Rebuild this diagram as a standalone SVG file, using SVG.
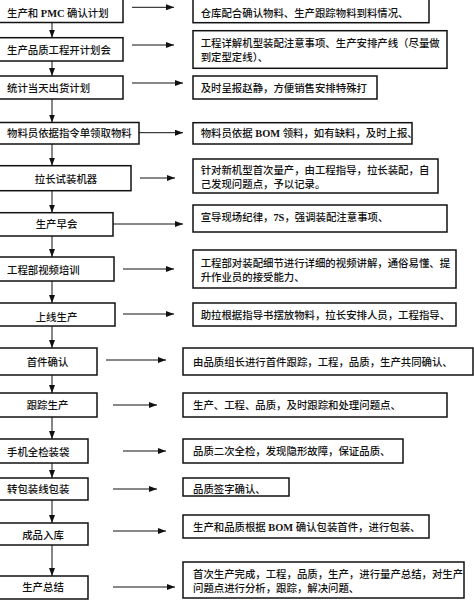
<svg xmlns="http://www.w3.org/2000/svg" width="474" height="600" viewBox="0 0 474 600">
<style>
.bx{fill:#fff;stroke:#111;stroke-width:1.5}
.t{font-family:"Liberation Serif","Noto Sans CJK SC",serif;font-size:10.4px;fill:#111;font-weight:500}
.c{text-anchor:middle}
.ln{stroke:#111;stroke-width:1;fill:none}
.lat{font-weight:bold}
</style>
<defs>
<marker id="ah" viewBox="0 0 8 6" refX="8" refY="3" markerWidth="8" markerHeight="6" markerUnits="userSpaceOnUse" orient="auto">
<path d="M0,0 L8,3 L0,6 Z" fill="#111"/>
</marker>
</defs>
<rect width="474" height="600" fill="#fff"/>
<g id="connectors">
<line class="ln" x1="52" y1="22.5" x2="52" y2="37.7" marker-end="url(#ah)"/>
<line class="ln" x1="52" y1="61" x2="52" y2="76" marker-end="url(#ah)"/>
<line class="ln" x1="52" y1="99" x2="52" y2="122.5" marker-end="url(#ah)"/>
<line class="ln" x1="52" y1="144" x2="52" y2="165.7" marker-end="url(#ah)"/>
<line class="ln" x1="52" y1="190.7" x2="52" y2="212.7" marker-end="url(#ah)"/>
<line class="ln" x1="52" y1="236" x2="52" y2="257" marker-end="url(#ah)"/>
<line class="ln" x1="52" y1="281" x2="52" y2="303" marker-end="url(#ah)"/>
<line class="ln" x1="52" y1="326" x2="52" y2="348" marker-end="url(#ah)"/>
<line class="ln" x1="52" y1="375" x2="52" y2="393" marker-end="url(#ah)"/>
<line class="ln" x1="52" y1="417" x2="52" y2="439" marker-end="url(#ah)"/>
<line class="ln" x1="52" y1="463" x2="52" y2="478" marker-end="url(#ah)"/>
<line class="ln" x1="52" y1="500" x2="52" y2="523" marker-end="url(#ah)"/>
<line class="ln" x1="52" y1="545" x2="52" y2="576" marker-end="url(#ah)"/>
<line class="ln" x1="132" y1="7.3" x2="174" y2="7.3" marker-end="url(#ah)"/>
<line class="ln" x1="132" y1="45" x2="174" y2="45" marker-end="url(#ah)"/>
<line class="ln" x1="132" y1="83" x2="183" y2="83" marker-end="url(#ah)"/>
<line class="ln" x1="139" y1="132.7" x2="183" y2="132.7" marker-end="url(#ah)"/>
<line class="ln" x1="140" y1="178" x2="175" y2="178" marker-end="url(#ah)"/>
<line class="ln" x1="113" y1="224" x2="183" y2="224" marker-end="url(#ah)"/>
<line class="ln" x1="123" y1="269" x2="174" y2="269" marker-end="url(#ah)"/>
<line class="ln" x1="123" y1="314" x2="174" y2="314" marker-end="url(#ah)"/>
<line class="ln" x1="106" y1="360" x2="166" y2="360" marker-end="url(#ah)"/>
<line class="ln" x1="113" y1="405" x2="157" y2="405" marker-end="url(#ah)"/>
<line class="ln" x1="123" y1="451" x2="166" y2="451" marker-end="url(#ah)"/>
<line class="ln" x1="113" y1="489" x2="157" y2="489" marker-end="url(#ah)"/>
<line class="ln" x1="113" y1="531" x2="166" y2="531" marker-end="url(#ah)"/>
<line class="ln" x1="113" y1="587" x2="175" y2="587" marker-end="url(#ah)"/>
</g>
<g id="n1"><rect class="bx" x="-2" y="-2" width="125" height="24.5"/><text class="t" x="7" y="16.7">生产和 <tspan class="lat">PMC</tspan> 确认计划</text></g>
<g id="n2"><rect class="bx" x="-2" y="37.7" width="125" height="23.3"/><text class="t" x="7" y="54">生产品质工程开计划会</text></g>
<g id="n3"><rect class="bx" x="-2" y="76" width="125" height="23"/><text class="t" x="7" y="92.3">统计当天出货计划</text></g>
<g id="n4"><rect class="bx" x="-2" y="122.5" width="141" height="21.5"/><text class="t" x="7" y="136.7">物料员依据指令单领取物料</text></g>
<g id="n5"><rect class="bx" x="-2" y="165.7" width="133" height="25"/><text class="t c" x="66" y="183">拉长试装机器</text></g>
<g id="n6"><rect class="bx" x="-2" y="212.7" width="115" height="23.3"/><text class="t c" x="56.5" y="228.3">生产早会</text></g>
<g id="n7"><rect class="bx" x="-2" y="257" width="116" height="24"/><text class="t" x="7" y="274">工程部视频培训</text></g>
<g id="n8"><rect class="bx" x="-2" y="303" width="117" height="23"/><text class="t c" x="56.5" y="321">上线生产</text></g>
<g id="n9"><rect class="bx" x="-2" y="348" width="99" height="27"/><text class="t c" x="47.5" y="366">首件确认</text></g>
<g id="n10"><rect class="bx" x="-2" y="393" width="99" height="24"/><text class="t c" x="47.5" y="409">跟踪生产</text></g>
<g id="n11"><rect class="bx" x="-2" y="439" width="90" height="24"/><text class="t" x="7" y="455.5">手机全检装袋</text></g>
<g id="n12"><rect class="bx" x="-2" y="478" width="90" height="22"/><text class="t" x="7" y="493">转包装线包装</text></g>
<g id="n13"><rect class="bx" x="-2" y="523" width="90" height="22"/><text class="t c" x="43" y="539">成品入库</text></g>
<g id="n14"><rect class="bx" x="-2" y="576" width="90" height="23"/><text class="t c" x="43" y="591">生产总结</text></g>
<g id="r1"><rect class="bx" x="193" y="-2" width="236" height="24.7"/><text class="t" x="200.7" y="16.7">仓库配合确认物料、生产跟踪物料到料情况、</text></g>
<g id="r2"><rect class="bx" x="193" y="30.7" width="254" height="37.6"/><text class="t" x="200.7" y="46.7">工程详解机型装配注意事项、生产安排产线（尽量做</text><text class="t" x="200.7" y="60.7">到定型定线）、</text></g>
<g id="r3"><rect class="bx" x="193" y="76" width="184" height="23"/><text class="t" x="200.7" y="92.3">及时呈报赵静，方便销售安排特殊打</text></g>
<g id="r4"><rect class="bx" x="193" y="122.7" width="219" height="21.3"/><text class="t" x="200.7" y="137.3">物料员依据 <tspan class="lat">BOM</tspan> 领料，如有缺料，及时上报、</text></g>
<g id="r5"><rect class="bx" x="193" y="159" width="245" height="34"/><text class="t" x="200.7" y="174">针对新机型首次量产，由工程指导，拉长装配，自</text><text class="t" x="200.7" y="188.3">己发现问题点，予以记录。</text></g>
<g id="r6"><rect class="bx" x="193" y="205" width="254" height="27"/><text class="t" x="200.7" y="221.3">宣导现场纪律，<tspan class="lat">7S</tspan>，强调装配注意事项、</text></g>
<g id="r7"><rect class="bx" x="193" y="250" width="263" height="38"/><text class="t" x="200.7" y="266.7">工程部对装配细节进行详细的视频讲解，通俗易懂、提</text><text class="t" x="200.7" y="281.3">升作业员的接受能力、</text></g>
<g id="r8"><rect class="bx" x="193" y="303" width="263" height="23"/><text class="t" x="200.7" y="319">助拉根据指导书摆放物料，拉长安排人员，工程指导、</text></g>
<g id="r9"><rect class="bx" x="183" y="348" width="290" height="27"/><text class="t" x="193" y="366">由品质组长进行首件跟踪，工程，品质，生产共同确认、</text></g>
<g id="r10"><rect class="bx" x="183" y="393" width="264" height="24"/><text class="t" x="193" y="409">生产、工程、品质，及时跟踪和处理问题点、</text></g>
<g id="r11"><rect class="bx" x="183" y="439" width="220" height="24"/><text class="t" x="193" y="454.7">品质二次全检，发现隐形故障，保证品质、</text></g>
<g id="r12"><rect class="bx" x="183" y="478" width="106" height="18"/><text class="t" x="193" y="493">品质签字确认、</text></g>
<g id="r13"><rect class="bx" x="183" y="515" width="246" height="23"/><text class="t" x="193" y="531">生产和品质根据 <tspan class="lat">BOM</tspan> 确认包装首件，进行包装、</text></g>
<g id="r14"><rect class="bx" x="183" y="562" width="281" height="36"/><text class="t" x="193" y="578">首次生产完成，工程，品质，生产，进行量产总结，对生产</text><text class="t" x="193" y="591.7">问题点进行分析，跟踪，解决问题、</text></g>
</svg>
